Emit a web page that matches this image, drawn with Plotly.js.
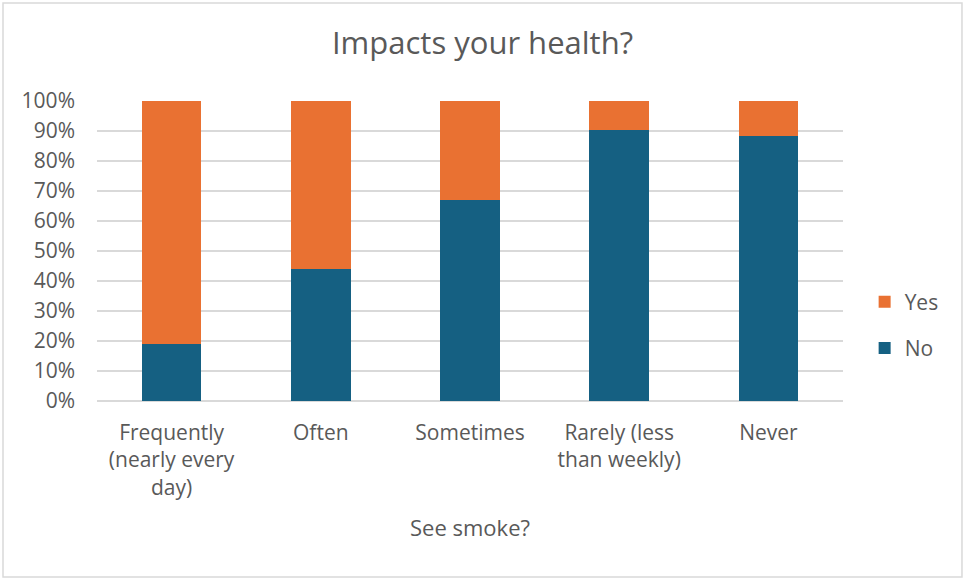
<!DOCTYPE html>
<html>
<head>
<meta charset="utf-8">
<script src="https://cdn.plot.ly/plotly-3.0.1.min.js"></script>
<style>
  html, body { margin: 0; padding: 0; background: #ffffff; }
  #chart { width: 965px; height: 579px; }
</style>
</head>
<body>
<div id="chart"></div>
<script>
// Survey: how often smoke is seen vs. whether it impacts health (share of responses)
const categories = [
  "Frequently<br>(nearly every<br>day)",
  "Often",
  "Sometimes",
  "Rarely (less<br>than weekly)",
  "Never"
];
const noShare  = [0.190, 0.441, 0.670, 0.902, 0.884];
const yesShare = [0.810, 0.559, 0.330, 0.098, 0.116];

const textColor = "#595959";
const gridColor = "#d9d9d9";
const fontFamily = "Open Sans, Noto Sans, sans-serif";

const traces = [
  {
    type: "bar",
    name: "No",
    x: categories,
    y: noShare,
    legendgroup: "no",
    legendrank: 2,
    marker: { color: "#156082", line: { width: 0 } },
    hovertemplate: "%{y:.0%}<extra>No</extra>"
  },
  {
    type: "bar",
    name: "Yes",
    x: categories,
    y: yesShare,
    legendgroup: "yes",
    legendrank: 1,
    marker: { color: "#E97132", line: { width: 0 } },
    hovertemplate: "%{y:.0%}<extra>Yes</extra>"
  }
];

const layout = {
  width: 965,
  height: 579,
  paper_bgcolor: "#ffffff",
  plot_bgcolor: "#ffffff",
  margin: { l: 97, r: 122, t: 101, b: 178 },
  font: { family: fontFamily, color: textColor, size: 21 },
  barmode: "stack",
  bargap: 0.6,
  showlegend: true,
  title: {
    text: "Impacts your health?",
    font: { family: fontFamily, size: 31, color: textColor },
    x: 0.5,
    xref: "container",
    xanchor: "center",
    y: 0.925,
    yref: "container",
    yanchor: "middle"
  },
  xaxis: {
    type: "category",
    showgrid: false,
    zeroline: false,
    showline: false,
    ticks: "",
    tickfont: { family: fontFamily, size: 21, color: textColor },
    ticklabelstandoff: 17,
    automargin: false,
    title: {
      text: "See smoke?",
      font: { family: fontFamily, size: 22, color: textColor },
      standoff: 21
    }
  },
  yaxis: {
    range: [0, 1],
    dtick: 0.1,
    tick0: 0,
    tickformat: ".0%",
    showgrid: true,
    gridcolor: gridColor,
    gridwidth: 1.5,
    zeroline: true,
    zerolinecolor: gridColor,
    zerolinewidth: 1.5,
    showline: false,
    ticks: "",
    ticklabelstandoff: 21,
    tickfont: { family: fontFamily, size: 21, color: textColor },
    automargin: false,
    fixedrange: true
  },
  legend: {
    x: 1.029,
    xanchor: "left",
    y: 0.253,
    yanchor: "middle",
    traceorder: "grouped",
    tracegroupgap: 16,
    font: { family: fontFamily, size: 21, color: textColor },
    bgcolor: "rgba(0,0,0,0)"
  },
  shapes: [
    {
      type: "rect",
      xref: "paper",
      yref: "paper",
      x0: -0.126, x1: 1.1595,
      y0: -0.5867, y1: 1.3267,
      line: { color: gridColor, width: 1.5 },
      fillcolor: "rgba(0,0,0,0)",
      layer: "below"
    }
  ]
};

Plotly.newPlot("chart", traces, layout, { displayModeBar: false, staticPlot: true });
</script>
</body>
</html>
